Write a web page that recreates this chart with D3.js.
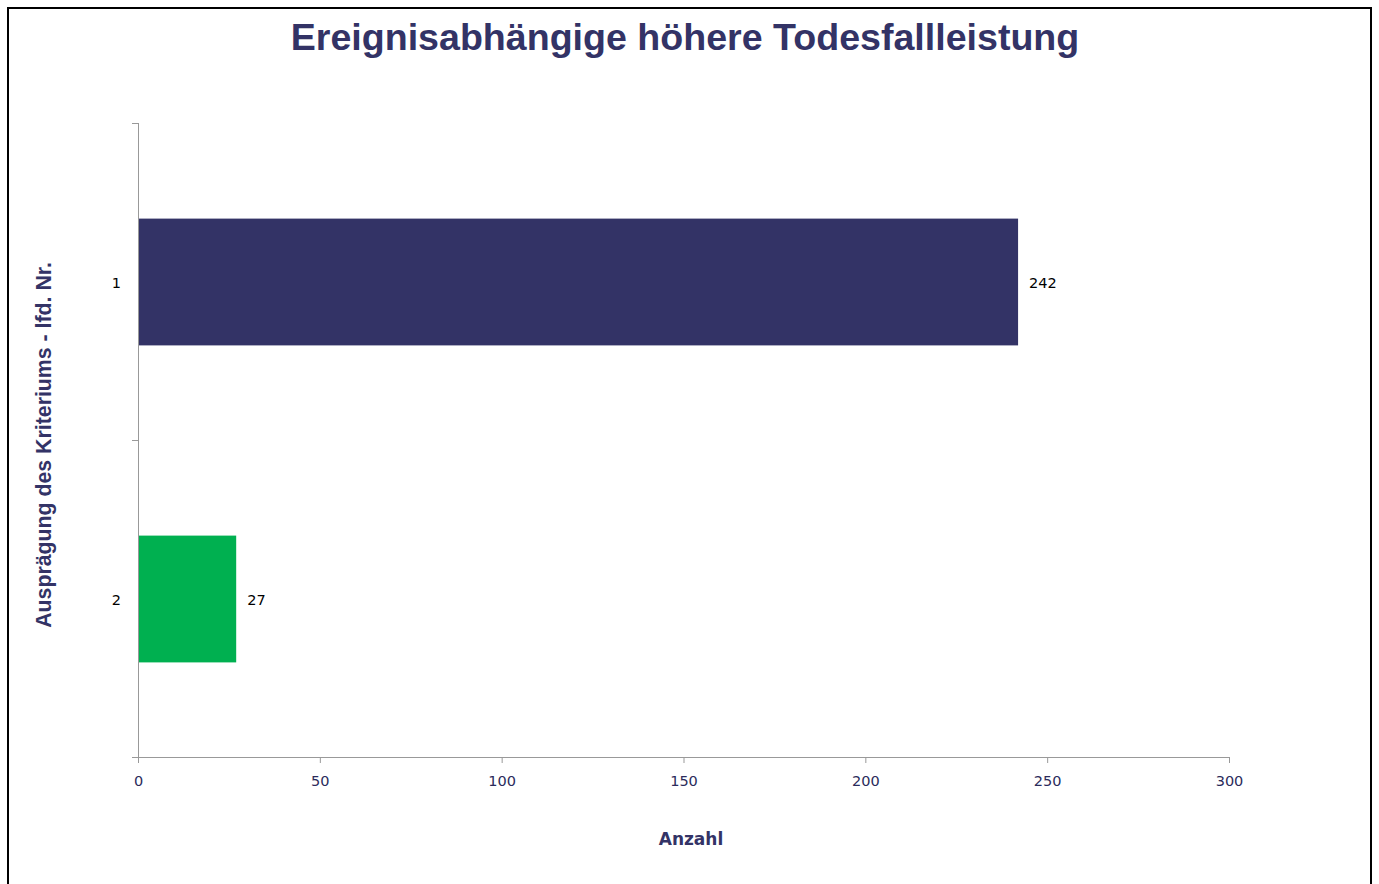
<!DOCTYPE html>
<html><head><meta charset="utf-8">
<script src="https://cdn.jsdelivr.net/npm/d3@7"></script>
<style>body{margin:0;background:#fff}svg{display:block}</style>
</head><body>
<svg id="c" width="1379" height="884"></svg>
<script>
const categories = ["1", "2"];
const values = [242, 27];
const barColors = ["#333366", "#00B050"];
const xTicks = [0, 50, 100, 150, 200, 250, 300];
const title = "Ereignisabhängige höhere Todesfallleistung";
const xTitle = "Anzahl";
const yTitle = "Ausprägung des Kriteriums - lfd. Nr.";

const svg = d3.select("#c");
const m = {left: 138, right: 1229, top: 123, bottom: 757};
const navy = "#333366";
const tickFont = "DejaVu Sans, Verdana, sans-serif";

svg.append("rect").attr("x", 8).attr("y", 8).attr("width", 1363).attr("height", 900)
  .attr("fill", "#fff").attr("stroke", "#000").attr("stroke-width", 2);

const x = d3.scaleLinear().domain([0, 300]).range([m.left, m.right]);
const y = d3.scaleBand().domain(categories).range([m.top, m.bottom]).paddingInner(0.6).paddingOuter(0.3);

// bars
svg.selectAll("rect.bar").data(values).join("rect").attr("class", "bar")
  .attr("x", x(0)).attr("y", (d, i) => y(categories[i]) + 0.5)
  .attr("width", d => x(d) - x(0)).attr("height", y.bandwidth())
  .attr("fill", (d, i) => barColors[i]);

// value labels
svg.selectAll("text.val").data(values).join("text").attr("class", "val")
  .attr("x", d => x(d) + 11).attr("y", (d, i) => y(categories[i]) + y.bandwidth() / 2 + 1)
  .attr("dy", "0.35em").attr("font-family", tickFont)
  .attr("font-size", 14.5).attr("fill", "#000").text(d => d);

// x axis
const gx = svg.append("g").attr("transform", `translate(0,${m.bottom})`)
  .call(d3.axisBottom(x).tickValues(xTicks).tickSize(6).tickSizeOuter(0).tickPadding(13));
gx.select(".domain").attr("stroke", "#999").attr("d", `M${m.left - 6},0.5H${m.right}`);
gx.selectAll(".tick line").attr("stroke", "#999");
gx.selectAll(".tick text").attr("font-family", tickFont)
  .attr("font-size", 14.5).attr("fill", "#2b2b5b");

// y axis: ticks at band boundaries
const step = (m.bottom - m.top) / categories.length;
const bounds = d3.range(categories.length + 1).map(i => m.top + i * step);
const gy = svg.append("g");
gy.append("line").attr("x1", m.left + 0.5).attr("x2", m.left + 0.5)
  .attr("y1", m.top).attr("y2", m.bottom + 6).attr("stroke", "#999");
gy.selectAll("line.t").data(bounds.slice(0, -1)).join("line").attr("class", "t")
  .attr("x1", m.left - 6).attr("x2", m.left).attr("y1", d => Math.round(d) + 0.5).attr("y2", d => Math.round(d) + 0.5)
  .attr("stroke", "#999");
gy.selectAll("text").data(categories).join("text")
  .attr("x", 121).attr("y", (d, i) => m.top + (i + 0.5) * step + 1).attr("dy", "0.35em")
  .attr("text-anchor", "end").attr("font-family", tickFont)
  .attr("font-size", 14.5).attr("fill", "#000").text(d => d);

// titles
svg.append("text").attr("x", 685).attr("y", 50).attr("text-anchor", "middle")
  .attr("font-family", "Liberation Sans, Arial, sans-serif").attr("font-weight", "bold")
  .attr("font-size", 37.6).attr("fill", navy).text(title);
svg.append("text").attr("x", 691).attr("y", 845).attr("text-anchor", "middle")
  .attr("font-family", tickFont).attr("font-weight", "bold")
  .attr("font-size", 17).attr("fill", navy).text(xTitle);
svg.append("text").attr("transform", `translate(51,445) rotate(-90)`).attr("text-anchor", "middle")
  .attr("font-family", "Liberation Sans, Arial, sans-serif").attr("font-weight", "bold")
  .attr("font-size", 21.3).attr("fill", navy).text(yTitle);
</script>
</body></html>
